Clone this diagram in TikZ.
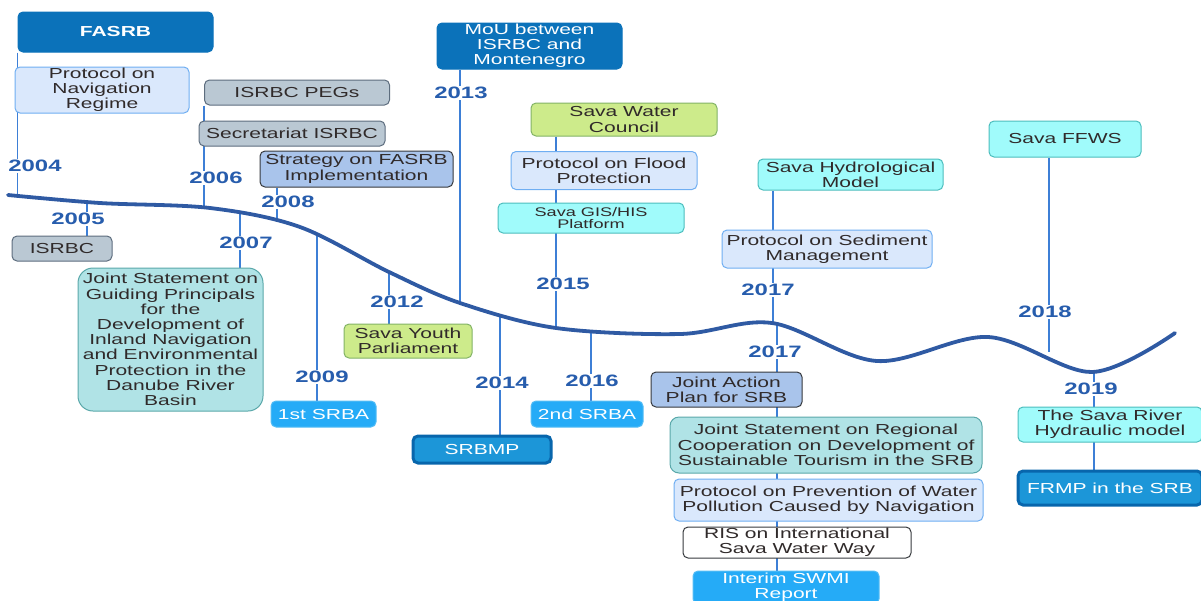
\documentclass[tikz,border=0pt]{standalone}
\usepackage{fontspec}
\setmainfont{Liberation Sans}[FakeStretch=1.45]
\pgfdeclarelayer{bg}
\pgfsetlayers{bg,main}
\definecolor{curvec}{HTML}{2F5AA3}
\definecolor{tickc}{HTML}{3D7FD6}
\definecolor{yearc}{HTML}{275DAD}
\definecolor{txt}{HTML}{302A2A}
\definecolor{dkfill}{HTML}{0B72BA}
\definecolor{midfill}{HTML}{1C96D8}
\definecolor{midbord}{HTML}{0866AC}
\definecolor{skyfill}{HTML}{25ABF7}
\definecolor{skybord}{HTML}{55BDF5}
\definecolor{grayfill}{HTML}{BAC8D3}
\definecolor{graybord}{HTML}{5D6D7E}
\definecolor{ltfill}{HTML}{DAE8FC}
\definecolor{ltbord}{HTML}{6FAEF2}
\definecolor{mbfill}{HTML}{A9C4EB}
\definecolor{dkbord}{HTML}{36393D}
\definecolor{tealfill}{HTML}{B0E3E6}
\definecolor{tealbord}{HTML}{5AA8AA}
\definecolor{aquafill}{HTML}{A0FBFB}
\definecolor{aquabord}{HTML}{4CBDBD}
\definecolor{grnfill}{HTML}{CDEB8B}
\definecolor{grnbord}{HTML}{82B366}
\begin{document}
\begin{tikzpicture}[x=1pt,y=-1pt,
  base/.style={rounded corners=5pt, inner sep=0pt, align=center,
    font=\fontsize{14.5}{15.2}\selectfont, text=txt, line width=1pt},
  dkbox/.style={base, fill=dkfill, draw=dkfill, text=white},
  midbox/.style={base, fill=midfill, draw=midbord, line width=3pt, text=white},
  skybox/.style={base, fill=skyfill, draw=skybord, text=white},
  graybox/.style={base, fill=grayfill, draw=graybord},
  ltbox/.style={base, fill=ltfill, draw=ltbord},
  mbbox/.style={base, fill=mbfill, draw=dkbord},
  tealbox/.style={base, fill=tealfill, draw=tealbord},
  aquabox/.style={base, fill=aquafill, draw=aquabord},
  grnbox/.style={base, fill=grnfill, draw=grnbord},
  wbox/.style={base, fill=white, draw=dkbord},
  sz/.style 2 args={minimum width=#1pt, minimum height=#2pt},
  yr/.style={fill=white, inner sep=1pt, text=yearc,
    font=\fontsize{16.5}{17}\selectfont\bfseries},
  tick/.style={draw=tickc, line width=1.4pt},
  river/.style={draw=curvec, line width=3.8pt, line cap=round}
]
\useasboundingbox (0,0) rectangle (1201,600);

% curve anchor coordinates
\coordinate (c04) at (17.5,196);
\coordinate (c05) at (87,202);
\coordinate (c06) at (204,206);
\coordinate (c07) at (240,211);
\coordinate (c08) at (277,219);
\coordinate (c09) at (317,234);
\coordinate (c12) at (389,272);
\coordinate (c13) at (460,303);
\coordinate (c14) at (500,317);
\coordinate (c15) at (556,328);
\coordinate (c16) at (591,333);
\coordinate (c17) at (773,323);
\coordinate (c17l) at (777,324);
\coordinate (c18) at (1049,352);
\coordinate (c19) at (1094,371);

% boxes
\node[dkbox, sz={195}{40}, font=\fontsize{14.5}{15.2}\selectfont\bfseries] (fasrb) at (115.5,32) {FASRB};
\node[ltbox, sz={174}{46}] (pnav) at (102,90) {Protocol on\\Navigation\\Regime};
\node[graybox, sz={185}{25}] (pegs) at (297,92.5) {ISRBC PEGs};
\node[graybox, sz={186}{25}] (secr) at (292,133.5) {Secretariat ISRBC};
\node[mbbox, sz={193}{36}] (strat) at (356.5,169) {Strategy on FASRB\\Implementation};
\node[graybox, sz={100}{25}] (isrbc) at (62,248.5) {ISRBC};
\node[tealbox, rounded corners=15pt, sz={185}{143}] (jsg) at (170.5,339.5)
  {Joint Statement on\\Guiding Principals\\for the\\Development of\\Inland Navigation\\and Environmental\\Protection in the\\Danube River\\Basin};
\node[skybox, sz={105}{26}] (srba1) at (323.5,414) {1st SRBA};
\node[grnbox, sz={128}{34}] (youth) at (408,341) {Sava Youth\\Parliament};
\node[midbox, sz={138}{27}] (srbmp) at (482,449.5) {SRBMP};
\node[skybox, sz={112}{26}] (srba2) at (587,414) {2nd SRBA};
\node[dkbox, sz={185}{46}] (mou) at (529.5,46) {MoU between\\ISRBC and\\Montenegro};
\node[grnbox, sz={186}{33}] (swc) at (624,119.5) {Sava Water\\Council};
\node[ltbox, sz={186}{38}] (flood) at (604,170.5) {Protocol on Flood\\Protection};
\node[aquabox, sz={186}{30}, font=\fontsize{12.5}{12.5}\selectfont] (gis) at (591,218) {Sava GIS/HIS\\Platform};
\node[aquabox, sz={185}{31}] (hydro) at (850.5,174.5) {Sava Hydrological\\Model};
\node[ltbox, sz={210}{38}] (sed) at (827,249) {Protocol on Sediment\\Management};
\node[mbbox, sz={151}{35}] (jap) at (726.5,389.5) {Joint Action\\Plan for SRB};
\node[tealbox, rounded corners=9pt, sz={312}{56}] (jsr) at (826,445)
  {Joint Statement on Regional\\Cooperation on Development of\\Sustainable Tourism in the SRB};
\node[ltbox, sz={309}{42}] (prev) at (828.5,500) {Protocol on Prevention of Water\\Pollution Caused by Navigation};
\node[wbox, sz={228}{31}] (ris) at (797,542.5) {RIS on International\\Sava Water Way};
\node[skybox, sz={186}{33}] (interim) at (786,587.5) {Interim SWMI\\Report};
\node[aquabox, sz={152}{36}] (ffws) at (1065,139) {Sava FFWS};
\node[aquabox, sz={184}{35}] (hydr) at (1110,424.5) {The Sava River\\Hydraulic model};
\node[midbox, sz={184}{34}] (frmp) at (1110,488) {FRMP in the SRB};

% year labels
\node[yr] (y04) at (35,166) {2004};
\node[yr] (y05) at (78,219) {2005};
\node[yr] (y06) at (216,178) {2006};
\node[yr] (y07) at (246,243) {2007};
\node[yr] (y08) at (288,202) {2008};
\node[yr] (y09) at (322,377) {2009};
\node[yr] (y12) at (397,302) {2012};
\node[yr] (y13) at (461,93) {2013};
\node[yr] (y14) at (502,383) {2014};
\node[yr] (y15) at (563,284) {2015};
\node[yr] (y16) at (592,381) {2016};
\node[yr] (y17a) at (768,290) {2017};
\node[yr] (y17b) at (775,352) {2017};
\node[yr] (y18) at (1045,312) {2018};
\node[yr] (y19) at (1091,389) {2019};

\begin{pgfonlayer}{bg}
  \draw[tick] (c04 |- fasrb.south) -- (c04);
  \draw[tick] (c05) -- (c05 |- isrbc.north);
  \draw[tick] (c06 |- pegs.south) -- (c06);
  \draw[tick] (c07) -- (c07 |- jsg.north);
  \draw[tick] (c08 |- strat.south) -- (c08);
  \draw[tick] (c09) -- (c09 |- srba1.north);
  \draw[tick] (c12) -- (c12 |- youth.north);
  \draw[tick] (c13 |- mou.south) -- (c13);
  \draw[tick] (c14) -- (c14 |- srbmp.north);
  \draw[tick] (c15 |- swc.south) -- (c15);
  \draw[tick] (c16) -- (c16 |- srba2.north);
  \draw[tick] (c17 |- hydro.south) -- (c17);
  \draw[tick] (c17l) -- (c17l |- interim.north);
  \draw[tick] (c18 |- ffws.south) -- (c18);
  \draw[tick] (c19) -- (c19 |- frmp.north);
  \draw[river] plot[smooth, tension=0.55] coordinates {
    (8,195) (100,203) (210,208) (300,227) (389,272)
    (460,303) (556,328) (680,334) (772,323)
    (877,361) (988,337) (1092,372) (1175,333)};
\end{pgfonlayer}
\end{tikzpicture}
\end{document}
